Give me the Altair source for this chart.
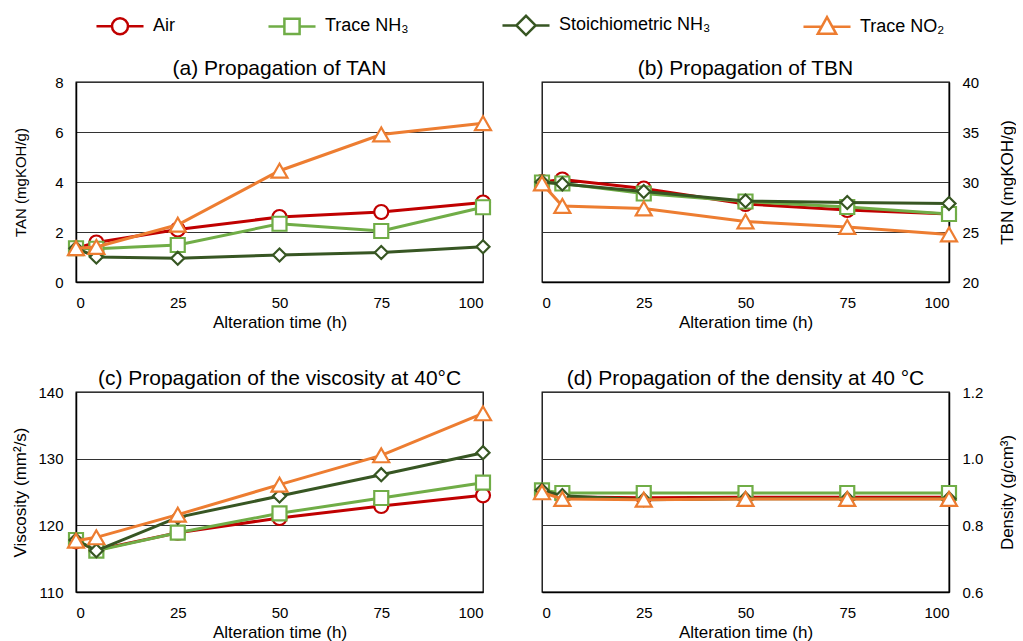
import altair as alt
import pandas as pd

# ---------------- data ----------------
hours = [0, 5, 25, 50, 75, 100]
series = ["Air", "Trace NH\u2083", "Stoichiometric NH\u2083", "Trace NO\u2082"]
colors = ["#C00000", "#70AD47", "#375623", "#ED7D31"]
shapes = ["circle", "square", "diamond", "triangle-up"]
marker_sizes = [196, 196, 170, 256]

# (a) TAN (mgKOH/g)
tan_air = [1.35, 1.58, 2.10, 2.60, 2.80, 3.18]
tan_nh3 = [1.35, 1.33, 1.48, 2.33, 2.04, 2.99]
tan_stoich = [1.35, 1.00, 0.95, 1.08, 1.18, 1.41]
tan_no2 = [1.35, 1.40, 2.29, 4.45, 5.90, 6.35]

# (b) TBN (mgKOH/g)
tbn_air = [30.0, 30.25, 29.35, 27.80, 27.20, 26.80]
tbn_nh3 = [29.95, 29.85, 28.85, 28.05, 27.50, 26.80]
tbn_stoich = [30.0, 29.80, 29.05, 28.10, 27.95, 27.85]
tbn_no2 = [29.85, 27.60, 27.35, 26.05, 25.50, 24.75]

# (c) viscosity at 40 °C (mm²/s)
vis_air = [117.6, 116.3, 118.9, 121.1, 122.9, 124.5]
vis_nh3 = [117.8, 116.2, 118.9, 121.8, 124.1, 126.4]
vis_stoich = [117.8, 116.2, 121.2, 124.4, 127.6, 130.9]
vis_no2 = [117.7, 118.2, 121.6, 126.1, 130.5, 136.8]

# (d) density at 40 °C (g/cm³)
den_air = [0.900, 0.885, 0.883, 0.884, 0.884, 0.884]
den_nh3 = [0.905, 0.897, 0.897, 0.897, 0.897, 0.897]
den_stoich = [0.905, 0.889, 0.877, 0.880, 0.880, 0.880]
den_no2 = [0.899, 0.879, 0.877, 0.879, 0.879, 0.879]

# legend symbols: marker with a line through it (unit box -1..1)
legend_paths = [
    "M-2.94,0H-1M1,0H2.94M-1,0A1,1,0,1,0,1,0A1,1,0,1,0,-1,0Z",
    "M-2.94,0H-0.95M0.95,0H2.94M-0.95,-0.95H0.95V0.95H-0.95Z",
    "M-2.94,0H-1.2M1.2,0H2.94M-1.2,0L0,-1.2L1.2,0L0,1.2Z",
    "M-2.94,0H-0.65M0.65,0H2.94M0,-1.2L1.15,0.9L-1.15,0.9Z",
]

FONT = "Liberation Sans"
W, H = 407, 200


def panel(values, title, ytitle, ydomain, yticks, orient, fmt, ytitle_size, with_legend=False):
    rows = []
    for s, vals in zip(series, values):
        for h, v in zip(hours, vals):
            rows.append({"series": s, "hours": h, "value": v})
    df = pd.DataFrame(rows)

    x = alt.X(
        "hours:Q",
        scale=alt.Scale(domain=[0, 100], nice=False, zero=False),
        axis=alt.Axis(
            values=[0, 25, 50, 75, 100],
            title="Alteration time (h)",
            grid=False,
            labelPadding=13,
            titlePadding=4,
        ),
    )
    y = alt.Y(
        "value:Q",
        scale=alt.Scale(domain=ydomain, nice=False, zero=False),
        axis=alt.Axis(
            orient=orient,
            values=yticks,
            format=fmt,
            title=ytitle,
            grid=True,
            labelPadding=13,
            titleAngle=270,
            titleAlign="center",
            titleBaseline="middle",
            titleX=-56 if orient == "left" else 58,
            titleY=H / 2,
            titleFontSize=ytitle_size,
        ),
    )

    base = alt.Chart(df)
    layers = []
    for s, c, sh, sz in zip(series, colors, shapes, marker_sizes):
        sub = base.transform_filter(alt.datum.series == s)
        layers.append(sub.mark_line(color=c, strokeWidth=3).encode(x=x, y=y))
        layers.append(
            sub.mark_point(
                shape=sh, size=sz, filled=True, fill="white", stroke=c,
                strokeWidth=2.2, opacity=1,
            ).encode(x=x, y=y)
        )
    if with_legend:
        leg = dict(
            title=None,
            orient="none",
            legendX=34.5,
            legendY=-66.5,
            direction="horizontal",
            symbolSize=256,
            symbolStrokeWidth=2.5,
            labelFont=FONT,
            labelFontSize=18,
            labelColor="black",
            labelOffset=23.5,
            columnPadding=87,
            padding=0,
        )
        layers.append(
            base.transform_filter("false")
            .mark_point(filled=False, opacity=1, strokeWidth=2.5)
            .encode(
                x=x,
                y=y,
                color=alt.Color("series:N", scale=alt.Scale(domain=series, range=colors),
                                legend=alt.Legend(**leg)),
                shape=alt.Shape("series:N", scale=alt.Scale(domain=series, range=legend_paths),
                                legend=alt.Legend(**leg)),
            )
        )
    return alt.layer(*layers).properties(
        width=W,
        height=H,
        title=alt.TitleParams(title, anchor="middle"),
    )


pa = panel([tan_air, tan_nh3, tan_stoich, tan_no2], "(a) Propagation of TAN",
           "TAN (mgKOH/g)", [0, 8], [0, 2, 4, 6, 8], "left", "d", 15, with_legend=True)
pb = panel([tbn_air, tbn_nh3, tbn_stoich, tbn_no2], "(b) Propagation of TBN",
           "TBN (mgKOH/g)", [20, 40], [20, 25, 30, 35, 40], "right", "d", 17)
pc = panel([vis_air, vis_nh3, vis_stoich, vis_no2], "(c) Propagation of the viscosity at 40°C",
           "Viscosity (mm²/s)", [110, 140], [110, 120, 130, 140], "left", "d", 17)
pd_ = panel([den_air, den_nh3, den_stoich, den_no2], "(d) Propagation of the density at 40 °C",
            "Density (g/cm³)", [0.6, 1.2], [0.6, 0.8, 1.0, 1.2], "right", ".1f", 17)

chart = (
    alt.concat(pa, pb, pc, pd_, columns=2, spacing={"row": 36, "column": 31}, align="each")
    .properties(padding={"left": 10, "top": 15, "right": 0, "bottom": 0}, background="white")
    .configure_view(stroke="black", strokeWidth=1.3)
    .configure_axis(
        labelFont=FONT,
        titleFont=FONT,
        labelFontSize=15,
        titleFontSize=17,
        labelColor="black",
        titleColor="black",
        titleFontWeight="normal",
        ticks=False,
        domainColor="black",
        domainWidth=1.5,
        gridColor="#333333",
        gridWidth=1,
    )
    .configure_title(font=FONT, fontSize=21, fontWeight="normal", color="black", offset=-4)
)

chart.save("out.html", embed_options={"renderer": "svg", "actions": False})
